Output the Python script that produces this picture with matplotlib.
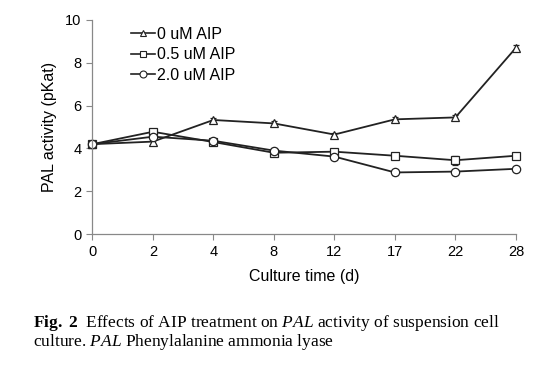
import matplotlib
matplotlib.use("Agg")
import matplotlib.pyplot as plt

days = ["0", "2", "4", "8", "12", "17", "22", "28"]
aip_0 = [4.2, 4.32, 5.33, 5.17, 4.65, 5.36, 5.45, 8.7]
aip_05 = [4.2, 4.78, 4.3, 3.8, 3.85, 3.66, 3.45, 3.66]
aip_20 = [4.2, 4.55, 4.36, 3.9, 3.62, 2.88, 2.92, 3.05]
err_0 = [0.08, 0.12, 0.1, 0.1, 0.08, 0.1, 0.1, 0.12]
err_05 = [0.08, 0.15, 0.1, 0.12, 0.1, 0.1, 0.22, 0.12]
err_20 = [0.08, 0.1, 0.1, 0.12, 0.1, 0.12, 0.08, 0.08]

plt.rcParams['font.family'] = ['Liberation Sans', 'DejaVu Sans']
plt.rcParams['mathtext.fontset'] = 'custom'
plt.rcParams['mathtext.rm'] = 'Liberation Serif'
plt.rcParams['mathtext.it'] = 'Liberation Serif:italic'
plt.rcParams['mathtext.bf'] = 'Liberation Serif:bold'

fig = plt.figure(figsize=(5.5, 3.77), dpi=100)
ax = fig.add_axes([0.168, 0.379, 0.770, 0.568])

x = list(range(len(days)))
series = [(aip_0, err_0, '^', '0 uM AIP'),
          (aip_05, err_05, 's', '0.5 uM AIP'),
          (aip_20, err_20, 'o', '2.0 uM AIP')]
for vals, errs, m, lab in series:
    ax.errorbar(x, vals, yerr=errs, color='#222222', lw=1.3, marker=m,
                markersize=6, markerfacecolor='white', markeredgecolor='#222222',
                markeredgewidth=0.9, capsize=2, elinewidth=0.8, clip_on=False)
    ax.plot([], [], color='#222222', lw=1.2, marker=m, markersize=5,
            markerfacecolor='white', markeredgecolor='#222222',
            markeredgewidth=0.8, label=lab)

ax.set_xlim(0, len(days) - 1)
ax.set_ylim(0, 10)
ax.set_xticks(x)
ax.set_xticklabels(days)
ax.set_yticks([0, 2, 4, 6, 8, 10])
for s in ['top', 'right']:
    ax.spines[s].set_visible(False)
for s in ['left', 'bottom']:
    ax.spines[s].set_color('#888888')
    ax.spines[s].set_linewidth(0.9)
ax.tick_params(direction='out', length=4, color='#888888', labelsize=10.5, pad=4)
ax.set_xlabel('Culture time (d)', fontsize=11.5, labelpad=7)
ax.set_ylabel('PAL activity (pKat)', fontsize=11.5, labelpad=6)

leg = ax.legend(loc='upper left', bbox_to_anchor=(0.075, 0.998), frameon=False,
                fontsize=11.5, handlelength=1.5, handletextpad=0.15,
                labelspacing=0.35, borderaxespad=0)

fig.text(0.06, 0.132, r"$\mathbf{Fig.\ 2}$  Effects of AIP treatment on $\mathit{PAL}$ activity of suspension cell",
         fontsize=12.5, family='Liberation Serif')
fig.text(0.06, 0.082, r"culture. $\mathit{PAL}$ Phenylalanine ammonia lyase",
         fontsize=12.5, family='Liberation Serif')

fig.savefig('out.png', dpi=100)
